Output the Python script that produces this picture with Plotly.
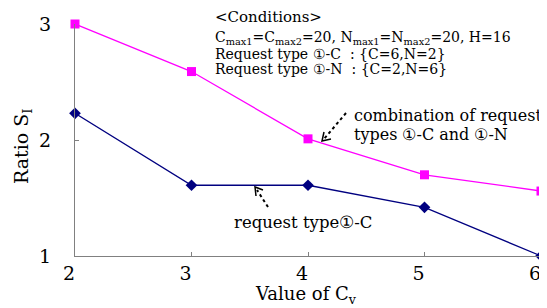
import plotly.graph_objects as go

cv = [2, 3, 4, 5, 6]
combo = [3.0, 2.59, 2.01, 1.70, 1.56]
type1c = [2.23, 1.61, 1.61, 1.42, 1.0]
xticks = [2, 3, 4, 5, 6]
yticks = [1, 2, 3]

cond_lines = [
    "&lt;Conditions&gt;",
    "C<sub>max1</sub>=C<sub>max2</sub>=20, N<sub>max1</sub>=N<sub>max2</sub>=20, H=16",
    "Request type \u2460-C  : {C=6,N=2}",
    "Request type \u2460-N  : {C=2,N=6}",
]
combo_label = ["combination of request", "types \u2460-C and \u2460-N"]
type1c_label = "request type\u2460-C"

FONT = "DejaVu Serif"

L, R, T, B = 75, 541, 24, 256


def pxx(p):
    return (p - L) / (R - L)


def pxy(p):
    return (B - p) / (B - T)


fig = go.Figure()
fig.add_trace(go.Scatter(x=cv, y=combo, mode="lines+markers",
                         line=dict(color="#ff00ff", width=1.3),
                         marker=dict(symbol="square", size=9, color="#ff00ff"),
                         cliponaxis=False, showlegend=False))
fig.add_trace(go.Scatter(x=cv, y=type1c, mode="lines+markers",
                         line=dict(color="#000080", width=1.3),
                         marker=dict(symbol="diamond", size=9, color="#000080"),
                         cliponaxis=False, showlegend=False))

fig.update_layout(
    width=539, height=300,
    margin=dict(l=67, r=6, t=16, b=52),
    paper_bgcolor="white", plot_bgcolor="white",
    font=dict(family=FONT, size=19, color="black"),
    xaxis=dict(range=[2, 6], tickvals=xticks, showgrid=False, zeroline=False,
               showline=True, linecolor="#808080", linewidth=1,
               ticks="inside", ticklen=4, tickcolor="#808080",
               tickfont=dict(size=19, family=FONT), ticklabelstandoff=0,
               ticklabelshift=-6, ticklabeloverflow="allow"),
    yaxis=dict(range=[1, 3], tickvals=yticks, showgrid=False, zeroline=False,
               showline=True, linecolor="#808080", linewidth=1,
               ticks="inside", ticklen=4, tickcolor="#808080",
               tickfont=dict(size=19, family=FONT), ticklabelstandoff=19),
)

fig.add_annotation(xref="paper", yref="paper", x=pxx(306), y=pxy(295),
                   xanchor="center", yanchor="middle", showarrow=False,
                   text="Value of C<sub>v</sub>", font=dict(size=18, family=FONT))
fig.add_annotation(xref="paper", yref="paper", x=pxx(22), y=pxy(146),
                   xanchor="center", yanchor="middle", showarrow=False, textangle=-90,
                   text="Ratio S<sub>I</sub>", font=dict(size=19, family=FONT))

cond_y = [17, 38, 54, 69]
cond_size = [15, 14, 14, 14]
for txt, yy, sz in zip(cond_lines, cond_y, cond_size):
    fig.add_annotation(xref="paper", yref="paper", x=pxx(213), y=pxy(yy),
                       xanchor="left", yanchor="middle", showarrow=False,
                       text=txt, font=dict(size=sz, family=FONT))

for txt, yy in zip(combo_label, [115, 134]):
    fig.add_annotation(xref="paper", yref="paper", x=pxx(352), y=pxy(yy),
                       xanchor="left", yanchor="middle", showarrow=False,
                       text=txt, font=dict(size=16, family=FONT))
fig.add_annotation(xref="paper", yref="paper", x=pxx(232), y=pxy(222),
                   xanchor="left", yanchor="middle", showarrow=False,
                   text=type1c_label, font=dict(size=16.5, family=FONT))

fig.add_shape(type="line", xref="paper", yref="paper",
              x0=pxx(346), y0=pxy(113), x1=pxx(324), y1=pxy(139),
              line=dict(color="black", width=2, dash="dot"))
fig.add_shape(type="line", xref="paper", yref="paper",
              x0=pxx(268), y0=pxy(207), x1=pxx(257), y1=pxy(190),
              line=dict(color="black", width=2, dash="dot"))


def vpath(tip, a, b):
    return (f"M {pxx(a[0])},{pxy(a[1])} L {pxx(tip[0])},{pxy(tip[1])} "
            f"L {pxx(b[0])},{pxy(b[1])}")


fig.add_shape(type="path", xref="paper", yref="paper",
              path=vpath((322, 141), (324, 132), (331, 139)),
              line=dict(color="black", width=1.5))
fig.add_shape(type="path", xref="paper", yref="paper",
              path=vpath((255, 187), (256, 196), (263, 190)),
              line=dict(color="black", width=1.5))

fig.write_html("out.html")
